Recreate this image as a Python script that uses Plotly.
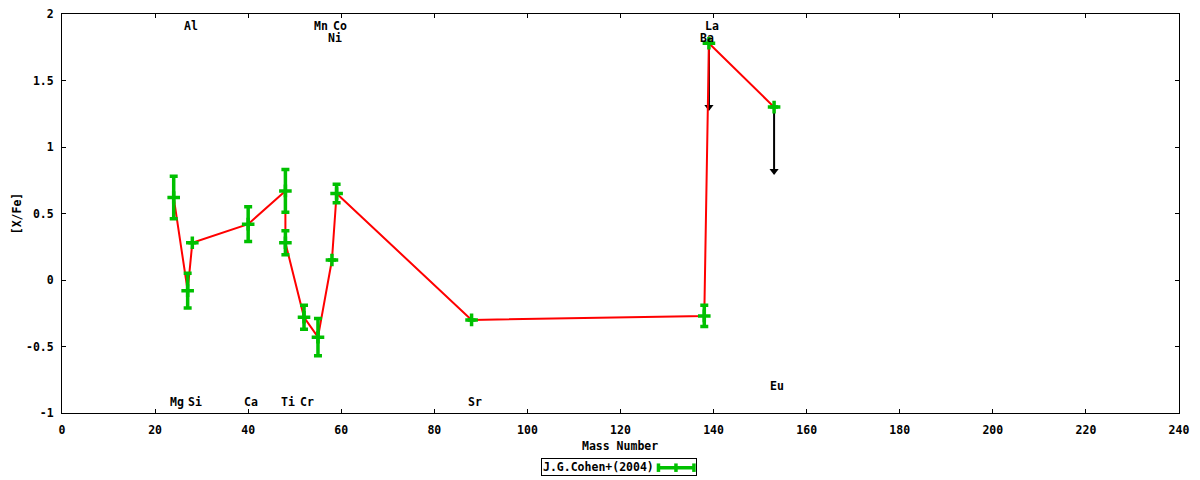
import plotly.graph_objects as go

# ── data ──────────────────────────────────────────────────────────────────
mass = [24, 27, 28, 40, 48, 48, 52, 55, 58, 59, 88, 138, 139, 153]
xfe = [0.62, -0.08, 0.28, 0.42, 0.67, 0.28, -0.28, -0.43, 0.15, 0.65, -0.30, -0.27, 1.78, 1.30]
xfe_err = [0.16, 0.13, 0.0, 0.13, 0.16, 0.09, 0.09, 0.14, 0.0, 0.07, 0.0, 0.08, 0.0, 0.0]

# upper limits (drawn as downward arrows)
limit_mass = [139, 153]
limit_xfe = [1.78, 1.30]
limit_len = 0.5

# element labels
elem_names = ["Al", "Mn", "Co", "La", "Ni", "Ba", "Mg", "Si", "Ca", "Ti", "Cr", "Sr", "Eu"]
elem_mass = [27, 55, 59, 139, 58, 138, 24, 28, 40, 48, 52, 88, 153]
elem_y = [1.91, 1.91, 1.91, 1.91, 1.82, 1.82, -0.92, -0.92, -0.92, -0.92, -0.92, -0.92, -0.80]

x_ticks = list(range(0, 241, 20))
y_ticks = [-1, -0.5, 0, 0.5, 1, 1.5, 2]
y_ticktext = ["-1", "-0.5", "0", "0.5", "1", "1.5", "2"]

GREEN = "#00c000"
FONT = dict(family="DejaVu Sans Mono", size=11.5, color="black", weight="bold")

# the page body has an 8px margin, so the figure is drawn 8px smaller / shifted
OFF = 8
W, H = 1200 - OFF, 480 - OFF
# plot area in screen pixels
L, R, T, B = 61.5, 1179.5, 14, 413.5


def px(x, y):
    return (x - L) / (R - L), (B - y) / (B - T)


fig = go.Figure()

# upper-limit arrows
ax_x, ax_y = [], []
for m, v in zip(limit_mass, limit_xfe):
    ax_x += [m, m, None]
    ax_y += [v, v - limit_len, None]
fig.add_trace(go.Scatter(x=ax_x, y=ax_y, mode="lines", line=dict(color="black", width=2),
                         showlegend=False, hoverinfo="skip"))
fig.add_trace(go.Scatter(x=limit_mass, y=[v - limit_len + 0.02 for v in limit_xfe], mode="markers",
                         marker=dict(symbol="triangle-down", size=8, color="black"),
                         showlegend=False, hoverinfo="skip"))

# connecting line
fig.add_trace(go.Scatter(x=mass, y=xfe, mode="lines", line=dict(color="red", width=2),
                         showlegend=False))

# points with error bars
fig.add_trace(go.Scatter(
    x=mass, y=xfe, mode="markers", name="J.G.Cohen+(2004)",
    marker=dict(symbol="cross-thin", size=9, color=GREEN, line=dict(color=GREEN, width=3.5)),
    error_y=dict(type="data", array=xfe_err, color=GREEN, thickness=3.5, width=4),
    showlegend=False,
))

# element labels
for name, m, y in zip(elem_names, elem_mass, elem_y):
    fig.add_annotation(x=m, y=y, text=name, showarrow=False, xshift=3, font=FONT,
                       xanchor="center", yanchor="middle")

# axis titles
x0, y0 = px(620, 447)
fig.add_annotation(x=x0, y=y0, xref="paper", yref="paper", text="Mass Number",
                   showarrow=False, font=FONT, xanchor="center", yanchor="middle")
x0, y0 = px(16, 214)
fig.add_annotation(x=x0, y=y0, xref="paper", yref="paper", text="[X/Fe]", textangle=-90,
                   showarrow=False, font=FONT, xanchor="center", yanchor="middle")

# legend box (gnuplot style: text then sample)
x0, y0 = px(541, 467.3)
fig.add_annotation(x=x0, y=y0, xref="paper", yref="paper", xanchor="left", yanchor="middle",
                   text="J.G.Cohen+(2004)" + "&nbsp;" * 6, showarrow=False, font=FONT,
                   bordercolor="black", borderwidth=1, borderpad=1, bgcolor="rgba(0,0,0,0)")
sx0, sy = px(658.5, 468.3)
sx1, _ = px(694, 468.3)
sxm, _ = px(676, 468.3)
_, cy0 = px(0, 464)
_, cy1 = px(0, 472.5)
fig.add_shape(type="line", xref="paper", yref="paper", x0=sx0, x1=sx1, y0=sy, y1=sy,
              line=dict(color=GREEN, width=3.5))
for cx in (sx0, sxm, sx1):
    fig.add_shape(type="line", xref="paper", yref="paper", x0=cx, x1=cx, y0=cy0, y1=cy1,
                  line=dict(color=GREEN, width=3.5))

axis_common = dict(showgrid=False, zeroline=False, showline=True, linecolor="black", linewidth=1,
                   mirror="allticks", ticks="inside", ticklen=4, tickcolor="black",
                   tickfont=FONT, ticklabeloverflow="allow")
fig.update_xaxes(range=[0, 240], tickvals=x_ticks, ticklabelstandoff=6, **axis_common)
fig.update_yaxes(range=[-1, 2], tickvals=y_ticks, ticktext=y_ticktext, ticklabelstandoff=5,
                 **axis_common)

fig.update_layout(
    width=W, height=H,
    margin=dict(l=L - OFF, r=W - (R - OFF), t=T - OFF, b=H - (B - OFF), autoexpand=False),
    plot_bgcolor="white", paper_bgcolor="white",
    font=FONT, showlegend=False,
)
fig.write_html("out.html")
